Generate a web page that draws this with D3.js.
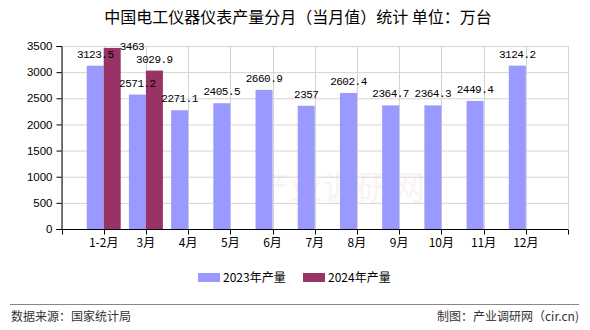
<!DOCTYPE html>
<html><head><meta charset="utf-8">
<script src="https://cdn.jsdelivr.net/npm/d3@7/dist/d3.min.js"></script>
<style>
html,body{margin:0;padding:0;background:#fff;}
svg{display:block;}
</style></head>
<body><svg id="c" width="590" height="330"></svg>
<script>
const title = "中国电工仪器仪表产量分月（当月值）统计 单位：万台";
const categories = ["1-2月","3月","4月","5月","6月","7月","8月","9月","10月","11月","12月"];
const series2023 = [3123.5,2571.2,2271.1,2405.5,2660.9,2357,2602.4,2364.7,2364.3,2449.4,3124.2];
const series2024 = [3463,3029.9,null,null,null,null,null,null,null,null,null];
const seriesNames = ["2023年产量","2024年产量"];
const seriesColors = ["#9999FF","#993366"];
const yTicks = [0,500,1000,1500,2000,2500,3000,3500];
const sourceText = "数据来源：国家统计局";
const creditText = "制图：产业调研网（cir.cn)";

const svg = d3.select("#c");
const L = 61.5, R = 568, T = 46, B = 229;
const numFont = "'Liberation Mono','DejaVu Sans Mono',monospace";
const cjk = "'Noto Sans CJK SC','Liberation Sans',sans-serif";

const x = d3.scalePoint().domain(categories).range([L, R]).padding(1);
const step = x.step();
const y = d3.scaleLinear().domain([0, 3500]).range([B, T]);
const bw = 17;

// title
svg.append("text").attr("x", 298).attr("y", 23).attr("text-anchor","middle")
  .style("font-family", cjk).style("font-size","16px").attr("fill","#000").text(title);

// watermark
svg.append("text").attr("x", 340).attr("y", 200).attr("text-anchor","middle")
  .style("font-family", cjk).style("font-size","34px").attr("fill","#f6e6e6").attr("opacity",0.45).text("产业调研网");

// grid
const g = svg.append("g");
yTicks.forEach(v => {
  g.append("line").attr("x1", L).attr("x2", R).attr("y1", y(v)+0.5).attr("y2", y(v)+0.5)
    .attr("stroke","#d4d4d4").attr("stroke-width",1);
});
for (let k = 0; k <= categories.length + 1; k++) {
  const xx = Math.round(L + k*step) + 0.5;
  g.append("line").attr("x1", xx).attr("x2", xx).attr("y1", T).attr("y2", B)
    .attr("stroke","#d4d4d4").attr("stroke-width",1);
}

// bars
const allSeries = [series2023, series2024];
allSeries.forEach((s, si) => {
  svg.append("g").selectAll("rect").data(categories.map((c,i)=>({c, v:s[i]})).filter(d=>d.v!=null))
    .join("rect")
    .attr("x", d => si===0 ? x(d.c)-bw : x(d.c))
    .attr("y", d => y(d.v))
    .attr("width", bw)
    .attr("height", d => B - y(d.v))
    .attr("fill", seriesColors[si]);
});

// axes
const xAxisG = svg.append("g").attr("transform", `translate(0,${B+0.5})`);
xAxisG.append("line").attr("x1", L).attr("x2", R).attr("y1",0).attr("y2",0).attr("stroke","#000");
for (let k = 0; k <= categories.length + 1; k++) {
  const xx = Math.round(L + k*step) + 0.5;
  xAxisG.append("line").attr("x1", xx).attr("x2", xx).attr("y1",0).attr("y2",5).attr("stroke","#000");
}
xAxisG.selectAll("text.xl").data(categories).join("text")
  .attr("x", d => x(d)).attr("y", 17).attr("text-anchor","middle")
  .style("font-family", cjk).style("font-size","12px").attr("fill","#000").text(d=>d);

const yAxis = d3.axisLeft(y).tickValues(yTicks).tickSize(5).tickPadding(4).tickFormat(d3.format("d"));
const yAxisG = svg.append("g").attr("transform", `translate(${L},0)`).call(yAxis);
yAxisG.select(".domain").attr("stroke","#000");
yAxisG.selectAll(".tick line").attr("stroke","#000");
yAxisG.selectAll("text").style("font-family","'Liberation Sans',Arial,sans-serif").style("font-size","11.5px").attr("fill","#000");

// value labels
const fmt = v => String(v);
allSeries.forEach((s, si) => {
  categories.forEach((c, i) => {
    const v = s[i]; if (v == null) return;
    const cx = si===0 ? x(c)-bw/2 : x(c)+bw/2;
    let ly = y(v) - 8, lx = cx, anchor = "middle";
    if (ly < T + 4) { ly = T + 4; lx = (si===0 ? x(c) : x(c)+bw) - 1; anchor = "start"; }
    svg.append("text").attr("x", lx).attr("y", ly).attr("text-anchor", anchor)
      .style("font-family", numFont).style("font-size","11px").style("letter-spacing","-0.5px")
      .attr("fill","#000").text(fmt(v));
  });
});

// legend
const lg = svg.append("g");
const legX = [198, 303];
seriesNames.forEach((n, i) => {
  lg.append("rect").attr("x", legX[i]).attr("y", 273).attr("width", 22).attr("height", 9).attr("fill", seriesColors[i]);
  lg.append("text").attr("x", legX[i]+25).attr("y", 282).style("font-family", cjk).style("font-size","12px")
    .attr("fill","#000").text(n);
});

// footer
svg.append("line").attr("x1", 10).attr("x2", 579).attr("y1", 304.5).attr("y2", 304.5).attr("stroke","#888").attr("stroke-width",1.2);
svg.append("text").attr("x", 11).attr("y", 321).style("font-family", cjk).style("font-size","12px").attr("fill","#333").text(sourceText);
svg.append("text").attr("x", 579).attr("y", 321).attr("text-anchor","end").style("font-family", cjk).style("font-size","12px").attr("fill","#333").text(creditText);
</script></body></html>
